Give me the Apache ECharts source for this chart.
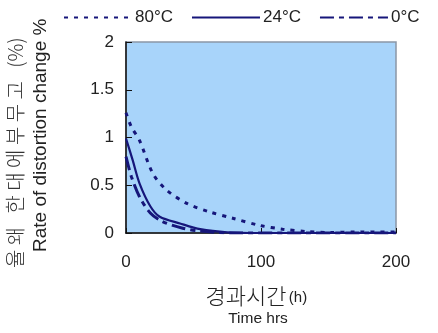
<!DOCTYPE html>
<html><head><meta charset="utf-8">
<script src="https://cdn.jsdelivr.net/npm/echarts@6/dist/echarts.min.js"></script>
<style>html,body{margin:0;padding:0;background:#fff}#c{width:438px;height:333px}</style>
</head><body><div id="c"></div>
<script>
const seriesNames = ['80°C', '24°C', '0°C'];
const data80 = [[0,1.26],[4,1.11],[10,0.97],[20,0.62],[30,0.45],[45,0.31],[62,0.22],[79,0.155],[99,0.08],[116,0.04],[134,0.015],[150,0.005],[170,0.01],[200,0.01]];
const data24 = [[0,0.99],[5,0.76],[10,0.52],[18,0.28],[25,0.17],[40,0.10],[55,0.04],[75,0.007],[100,0],[150,0],[200,0]];
const data0 = [[0,0.80],[4,0.59],[10,0.38],[18,0.21],[27,0.12],[42,0.05],[55,0.02],[80,0],[120,0],[200,0]];
const xTicks = [0, 100, 200];
const yTicks = [0, 0.5, 1, 1.5, 2];
const yTitleKo = '율 왜   한 대 에 부 무 고   (%)';
const yTitleEn = 'Rate of distortion change %';
const xTitleKo = '경과시간';
const xTitleKoUnit = '(h)';
const xTitleEn = 'Time hrs';

const navy = '#16167a';
const font = 'Liberation Sans, Arial, sans-serif';
const chart = echarts.init(document.getElementById('c'));
chart.setOption({
  animation: false,
  backgroundColor: '#fff',
  legend: {
    left: 58, top: 4, itemWidth: 68, itemHeight: 14, itemGap: 18,
    itemStyle: {opacity: 0},
    textStyle: {fontSize: 17, color: '#222', fontFamily: font, padding: [0,0,0,-2]},
    data: seriesNames
  },
  grid: {left: 126, right: 42, top: 42, bottom: 100, show: true,
    backgroundColor: '#a8d4fa', borderColor: '#8a96a6', borderWidth: 1.5},
  xAxis: {type: 'value', min: xTicks[0], max: xTicks[xTicks.length-1], interval: 100,
    axisLine: {show: true, onZero: false, lineStyle: {color: '#111', width: 1.5}},
    axisTick: {show: true, inside: true, length: 5, lineStyle: {color: '#111'}},
    splitLine: {show: false},
    axisLabel: {fontSize: 17, color: '#222', fontFamily: font, margin: 21}},
  yAxis: {type: 'value', min: yTicks[0], max: yTicks[yTicks.length-1], interval: 0.5,
    axisLine: {show: true, lineStyle: {color: '#111', width: 1.5}},
    axisTick: {show: true, inside: true, length: 6, lineStyle: {color: '#111'}},
    splitLine: {show: false},
    axisLabel: {fontSize: 17, color: '#222', fontFamily: font, margin: 12}},
  graphic: [
    {type: 'text', rotation: Math.PI/2, position: [5, 268],
     style: {text: yTitleKo, fontSize: 20, fill: '#333', fontFamily: 'Noto Sans CJK KR', fontWeight: 300}},
    {type: 'text', rotation: Math.PI/2, position: [31, 252],
     style: {text: yTitleEn, fontSize: 19, fill: '#222', fontFamily: font}},
    {type: 'text', position: [246, 285],
     style: {text: xTitleKo, fontSize: 22, fill: '#222', fontFamily: 'Noto Sans CJK KR', fontWeight: 300, align: 'center'}},
    {type: 'text', position: [298, 290],
     style: {text: xTitleKoUnit, fontSize: 15, fill: '#222', fontFamily: font, align: 'center'}},
    {type: 'text', position: [258, 311],
     style: {text: xTitleEn, fontSize: 15.5, fill: '#222', fontFamily: font, align: 'center'}}
  ],
  series: [
    {name: seriesNames[0], type: 'line', data: data80, symbol: 'none', smooth: 0.3,
     lineStyle: {color: navy, width: 3, type: [4, 6]}, itemStyle: {color: navy}},
    {name: seriesNames[1], type: 'line', data: data24, symbol: 'none', smooth: 0.3,
     lineStyle: {color: navy, width: 2.2, type: 'solid'}, itemStyle: {color: navy}},
    {name: seriesNames[2], type: 'line', data: data0, symbol: 'none', smooth: 0.3,
     lineStyle: {color: navy, width: 3, type: [14, 5, 5, 5]}, itemStyle: {color: navy}}
  ]
});
</script></body></html>
